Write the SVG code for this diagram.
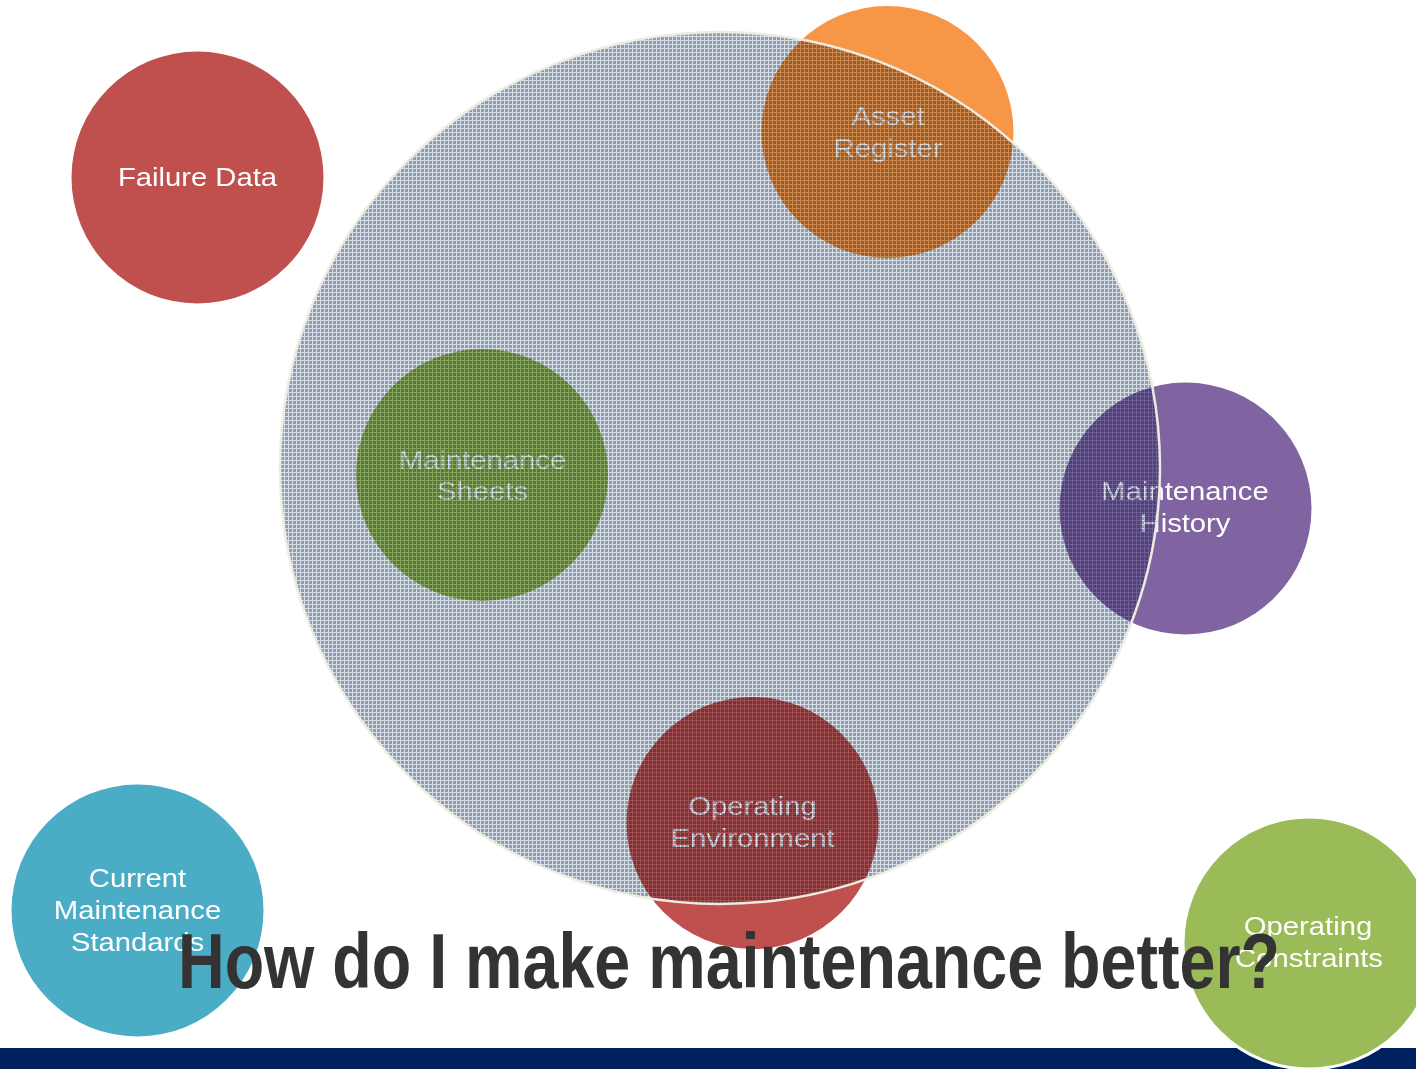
<svg xmlns="http://www.w3.org/2000/svg" width="1416" height="1069" viewBox="0 0 1416 1069">
<style>
.lbl{font-family:"Liberation Sans",Arial,sans-serif;font-size:25px;fill:#FFFFFF;text-anchor:middle}
.title{font-family:"Liberation Sans Narrow","Liberation Sans",Arial,sans-serif;font-size:78px;font-weight:bold;fill:#333333}
.overlay{mix-blend-mode:multiply}
</style>
<defs>
<pattern id="weave" patternUnits="userSpaceOnUse" x="0" y="0" width="4" height="4">
<rect x="0" y="0" width="4" height="4" fill="#E6EAF0"/>
<rect x="1" y="1" width="3" height="3" fill="#96A3B5"/>
</pattern>
</defs>
<rect x="0" y="0" width="1416" height="1069" fill="#FFFFFF"/>
<rect id="bottom-bar" x="0" y="1048" width="1416" height="21" fill="#002060"/>
<g id="failure-data">
<circle cx="197.5" cy="177.5" r="126" fill="#C0504D"/>
<text class="lbl" transform="translate(197.5 0) scale(1.17 1)" x="0" y="186">Failure Data</text>
</g>
<g id="asset-register">
<circle cx="887.5" cy="132" r="126" fill="#F79646"/>
<text class="lbl" transform="translate(888 0) scale(1.17 1)" x="0" y="125">Asset</text>
<text class="lbl" transform="translate(888 0) scale(1.17 1)" x="0" y="157">Register</text>
</g>
<g id="maintenance-sheets">
<circle cx="482" cy="475" r="126" fill="#9BBB59"/>
<text class="lbl" transform="translate(482.5 0) scale(1.17 1)" x="0" y="469">Maintenance</text>
<text class="lbl" transform="translate(482.5 0) scale(1.17 1)" x="0" y="500">Sheets</text>
</g>
<g id="maintenance-history">
<circle cx="1185.5" cy="508.5" r="126" fill="#8064A2"/>
<text class="lbl" transform="translate(1185 0) scale(1.17 1)" x="0" y="500">Maintenance</text>
<text class="lbl" transform="translate(1185 0) scale(1.17 1)" x="0" y="532">History</text>
</g>
<g id="operating-environment">
<circle cx="752.5" cy="823" r="126" fill="#C0504D"/>
<text class="lbl" transform="translate(752.5 0) scale(1.17 1)" x="0" y="815">Operating</text>
<text class="lbl" transform="translate(752.5 0) scale(1.17 1)" x="0" y="847">Environment</text>
</g>
<g id="current-maintenance-standards">
<circle cx="137.5" cy="910.5" r="126" fill="#4BACC6"/>
<text class="lbl" transform="translate(137.5 0) scale(1.17 1)" x="0" y="887">Current</text>
<text class="lbl" transform="translate(137.5 0) scale(1.17 1)" x="0" y="919">Maintenance</text>
<text class="lbl" transform="translate(137.5 0) scale(1.17 1)" x="0" y="951">Standards</text>
</g>
<g id="maintenance-process">
<ellipse class="overlay" cx="720" cy="468" rx="440" ry="436" fill="url(#weave)"/>
<ellipse cx="720" cy="468" rx="440" ry="436" fill="#556A88" fill-opacity="0.1"/>
<ellipse cx="720" cy="468" rx="440" ry="436" fill="none" stroke="#EEECE1" stroke-width="2.5"/>
</g>
<g id="operating-constraints">
<circle cx="1309" cy="943" r="126" fill="#9BBB59" stroke="#FFFFFF" stroke-width="3"/>
<text class="lbl" transform="translate(1308 0) scale(1.17 1)" x="0" y="935">Operating</text>
<text class="lbl" transform="translate(1309 0) scale(1.17 1)" x="0" y="967">Constraints</text>
</g>
<g id="connectors"/>
<text id="title" class="title" x="178" y="988" textLength="1102" lengthAdjust="spacingAndGlyphs">How do I make maintenance better?</text>
</svg>
